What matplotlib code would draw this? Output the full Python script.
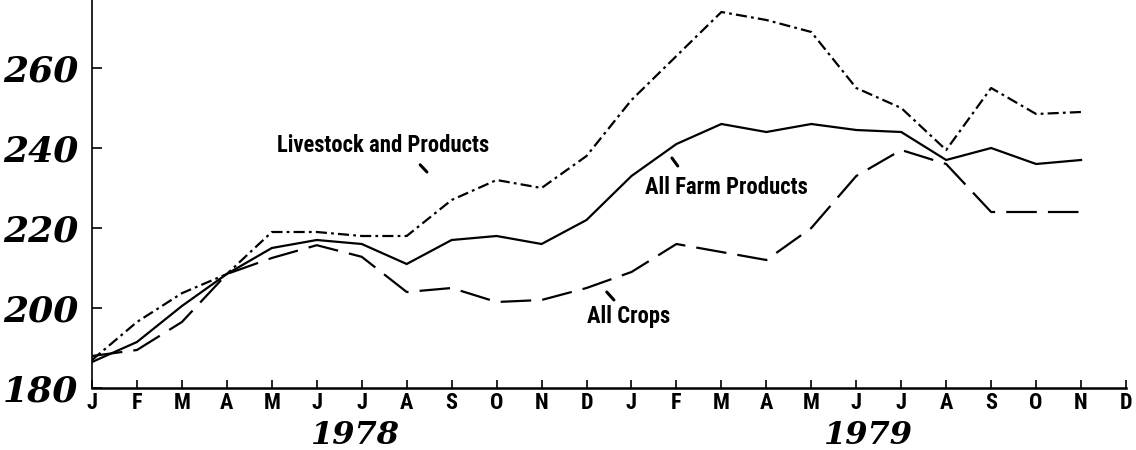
import matplotlib
matplotlib.use("Agg")
import matplotlib.pyplot as plt
from matplotlib import font_manager

plt.rcParams['lines.scale_dashes'] = False

months = ["J", "F", "M", "A", "M", "J", "J", "A", "S", "O", "N", "D",
          "J", "F", "M", "A", "M", "J", "J", "A", "S", "O", "N", "D"]
years = ["1978", "1979"]
year_pos = [5.85, 17.26]

all_farm = [186.5, 191.5, 200.5, 208.5, 215, 217, 216, 211, 217, 218, 216, 222,
            233, 241, 246, 244, 246, 244.5, 244, 237, 240, 236, 237]
livestock = [187, 196.5, 203.7, 208.5, 219, 219, 218, 218, 227, 232, 230, 238,
             252, 263, 274, 272, 269, 255, 250, 239.5, 255, 248.5, 249]
crops = [188, 189.5, 196.5, 208.5, 212.5, 215.7, 212.8, 204, 205, 201.5, 202, 205,
         209, 216, 214, 212, 220, 233, 239.5, 236, 224, 224, 224]

yticks = [180, 200, 220, 240, 260]

names = set(f.name for f in font_manager.fontManager.ttflist)
narrow = next((n for n in ['Liberation Sans Narrow', 'Roboto Condensed', 'Roboto', 'Liberation Sans']
               if n in names), 'DejaVu Sans')

W, H = 1136, 450
fig = plt.figure(figsize=(W / 100, H / 100), dpi=100)
ax = fig.add_axes([92 / W, 1 - 388 / H, (1126 - 92) / W, 388 / H])
ax.set_xlim(0, 23)
ax.set_ylim(180, 277)

lw = 1.6
ax.plot(range(len(all_farm)), all_farm, color='black', lw=lw, solid_joinstyle='miter')
ax.plot(range(len(livestock)), livestock, color='black', lw=lw, dashes=(8, 3, 2, 3))
ax.plot(range(len(crops)), crops, color='black', lw=lw, dashes=(22, 8))

for s in ['top', 'right']:
    ax.spines[s].set_visible(False)
ax.spines['left'].set_linewidth(1.2)
ax.spines['bottom'].set_linewidth(1.8)

ax.set_yticks(yticks)
ax.set_yticklabels([str(v) for v in yticks], fontfamily='DejaVu Serif',
                   fontweight='bold', fontstyle='italic', fontsize=26)
ax.tick_params(axis='y', direction='in', length=7, width=1.2, pad=10)

ax.set_xticks(range(len(months)))
ax.set_xticklabels(months, fontfamily=narrow, fontweight='bold', fontsize=16)
ax.tick_params(axis='x', direction='in', length=6, width=1.2, pad=3)

for yr, xp in zip(years, year_pos):
    ax.text(xp, -0.122, yr, transform=ax.get_xaxis_transform(), ha='center', va='center',
            fontfamily='DejaVu Serif', fontweight='bold', fontstyle='italic', fontsize=23)

lab_kw = dict(fontfamily=narrow, fontweight='bold', fontsize=16.3, ha='center', va='center')
ax.text(6.47, 240.5, "Livestock and Products", **lab_kw)
ax.text(14.10, 230, "All Farm Products", **lab_kw)
ax.text(11.94, 197.8, "All Crops", **lab_kw)

ptr = dict(arrowstyle='-', lw=2.2, color='black', shrinkA=0, shrinkB=0)
ax.annotate("", xy=(7.45, 234), xytext=(7.30, 235.8), arrowprops=ptr)
ax.annotate("", xy=(13.03, 235.5), xytext=(12.90, 237.5), arrowprops=ptr)
ax.annotate("", xy=(11.61, 202), xytext=(11.45, 204), arrowprops=ptr)

fig.savefig("out.png", dpi=100)
